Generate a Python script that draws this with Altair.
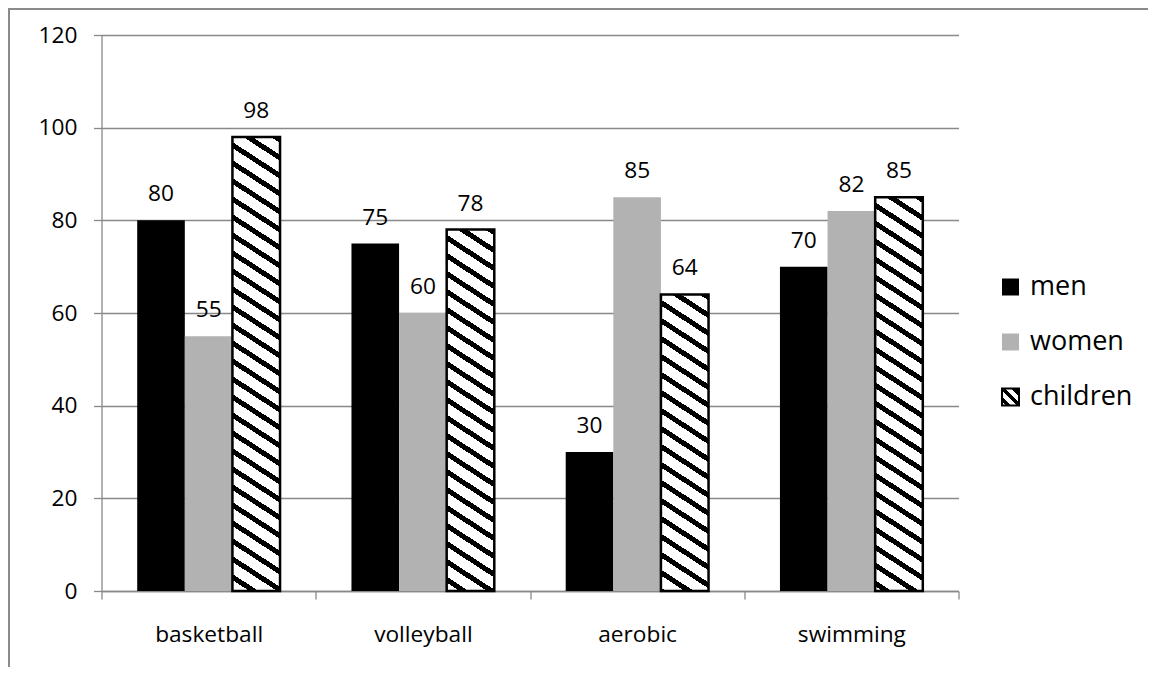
import altair as alt
import pandas as pd

# ---------------- data ----------------
sports = ["basketball", "volleyball", "aerobic", "swimming"]
series = ["men", "women", "children"]
men = [80, 75, 30, 70]
women = [55, 60, 85, 82]
children = [98, 78, 64, 85]
y_ticks = [0, 20, 40, 60, 80, 100, 120]
colors = ["#000000", "#b2b2b2", "#ffffff"]

rows = []
for i, sp in enumerate(sports):
    for name, vals in zip(series, [men, women, children]):
        rows.append({"sport": sp, "series": name, "value": vals[i]})
df = pd.DataFrame(rows)
legend_df = pd.DataFrame({"series": series})

# ---------------- layout / style ----------------
W, H = 857, 556
PAD_L, PAD_T = 93.5, 27
FONT = "Open Sans"
GRID = "#898989"
BAR_W = W / 4 / 4.5
PX_PER_UNIT = H / 120.0

# hatch pattern (diagonal stripes) as a linear gradient with hard stops
SLOPE = 0.65
PERIOD = 18.0
BLACK = 6.0
L = 520.0


def stripe_stops(length, period, black, phase=0.0):
    st = []
    q = -phase
    while q < length:
        a = max(q, 0) / length
        b = min(max(q + black, 0), length) / length
        c = min(q + period, length) / length
        st += [(a, "black"), (b, "black"), (b, "white"), (c, "white")]
        q += period
    return "[" + ",".join("{offset:%.5f,color:'%s'}" % (o, c) for o, c in st) + "]"


stops_bar = stripe_stops(L, PERIOD, BLACK)
h_expr = "max(1,datum.value*%.5f)" % PX_PER_UNIT
k_expr = "(%.4f/(%.4f+%s*%s))" % (L, (SLOPE * BAR_W) ** 2, h_expr, h_expr)
bar_fill_expr = "{gradient:'linear',x1:1,y1:0,x2:1-%s*%.4f,y2:%s*%s,stops:%s}" % (
    k_expr, SLOPE * BAR_W, k_expr, h_expr, stops_bar)

# legend symbol colours / hatch (square)
leg_stops = stripe_stops(34.0, 11.0, 5.0, phase=-3.0)
leg_grad = "{gradient:'linear',x1:1,y1:0,x2:0,y2:1,stops:%s}" % leg_stops
legend_fill_expr = ("datum.series === 'children' ? %s : (datum.series === 'men' ? '%s' : '%s')"
                    % (leg_grad, colors[0], colors[1]))
legend_stroke_expr = "datum.series === 'children' ? 'black' : 'transparent'"

x_enc = alt.X("sport:N", sort=sports,
              scale=alt.Scale(domain=sports, paddingInner=0, paddingOuter=0),
              axis=alt.Axis(title=None, labelAngle=0, tickBand="extent",
                            labelFont=FONT, labelFontSize=22.7, labelColor="black",
                            labelPadding=24.8, tickSize=8, tickColor=GRID, tickWidth=1.3,
                            domainColor=GRID, domainWidth=1.3, grid=False))
xo_enc = alt.XOffset("series:N", sort=series,
                     scale=alt.Scale(domain=series, paddingInner=0, paddingOuter=0.75))
y_enc = alt.Y("value:Q",
              scale=alt.Scale(domain=[0, 120], nice=False),
              axis=alt.Axis(title=None, values=y_ticks, grid=True, gridColor=GRID,
                            gridWidth=1.3, domainColor=GRID, domainWidth=1.3,
                            tickColor=GRID, tickWidth=1.3, tickSize=8,
                            labelFont=FONT, labelFontSize=22.7, labelColor="black",
                            labelPadding=16.5))

base = alt.Chart(df)

bars = base.mark_bar().encode(
    x=x_enc, xOffset=xo_enc, y=y_enc,
    fill=alt.Fill("series:N", sort=series,
                  scale=alt.Scale(domain=series, range=colors), legend=None),
)

hatched = base.transform_filter(alt.datum.series == "children").mark_bar(
    stroke="black", strokeWidth=2.5
).encode(
    x=x_enc, xOffset=xo_enc, y=y_enc,
    fill=alt.value({"expr": bar_fill_expr}),
)

labels = base.mark_text(baseline="alphabetic", dy=-19, font=FONT, fontSize=22.7,
                        color="black").encode(
    x=x_enc, xOffset=xo_enc, y=y_enc, text=alt.Text("value:Q"),
)

border = alt.Chart(alt.Data(values=[{"a": 1}])).mark_rect(
    filled=False, stroke="#8a8a8a", strokeWidth=2
).encode(
    x=alt.value(1 - PAD_L), y=alt.value(1 - PAD_T),
    x2=alt.value(1400), y2=alt.value(900),
)

main = alt.layer(bars, hatched, labels, border)

# ---------------- legend (squares + labels on a point scale of the series) ----------------
leg_y = alt.Y("series:N", sort=series,
              scale=alt.Scale(domain=series, range=[252, 362], padding=0), axis=None)
leg_sym = alt.Chart(legend_df).mark_square(size=289, strokeWidth=2, opacity=1).encode(
    x=alt.value(909), y=leg_y,
    fill=alt.value({"expr": legend_fill_expr}),
    stroke=alt.value({"expr": legend_stroke_expr}),
)
leg_txt = alt.Chart(legend_df).mark_text(align="left", baseline="middle", font=FONT,
                                         fontSize=27, color="black").encode(
    x=alt.value(928.5), y=leg_y, text="series:N",
)
legend = alt.layer(leg_sym, leg_txt)

chart = alt.layer(main, legend).resolve_scale(y="independent").properties(
    width=W, height=H,
    autosize=alt.AutoSizeParams(type="none"),
    padding={"left": PAD_L, "top": PAD_T, "right": 1140 - PAD_L - W, "bottom": 659 - PAD_T - H},
    background="white",
).configure_view(stroke=None)

chart.save("out.html", embed_options={"renderer": "svg", "actions": False})
